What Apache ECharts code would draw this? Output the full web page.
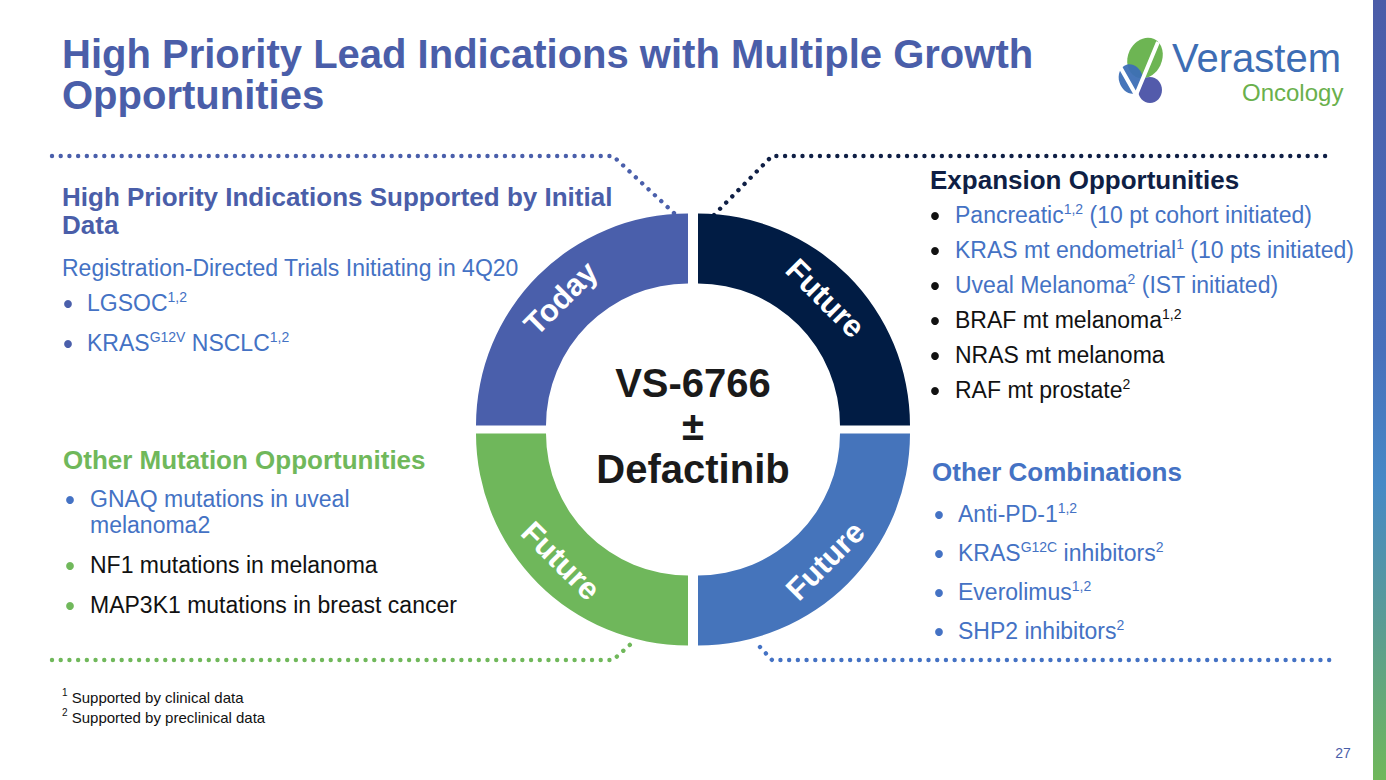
<!DOCTYPE html>
<html>
<head>
<meta charset="utf-8">
<script src="https://cdn.jsdelivr.net/npm/echarts@6/dist/echarts.min.js"></script>
<style>
html,body{margin:0;padding:0;background:#fff;}
#chart{width:1386px;height:780px;}
</style>
</head>
<body>
<div id="chart"></div>
<script>
// ---- data ----
const segmentNames = ['Today', 'Future', 'Future', 'Future'];
const segmentValues = [25, 25, 25, 25];
const centerLines = ['VS-6766', '±', 'Defactinib'];

const titleLines = ['High Priority Lead Indications with Multiple Growth', 'Opportunities'];
const todayHeading = ['High Priority Indications Supported by Initial', 'Data'];
const todaySub = 'Registration-Directed Trials Initiating in 4Q20';
const todayItems = ['{b|LGSOC}{s|1,2}', '{b|KRAS}{s|G12V}{b| NSCLC}{s|1,2}'];
const expansionHeading = 'Expansion Opportunities';
const expansionItems = [
  '{b|Pancreatic}{s|1,2}{b| (10 pt cohort initiated)}',
  '{b|KRAS mt endometrial}{s|1}{b| (10 pts initiated)}',
  '{b|Uveal Melanoma}{s|2}{b| (IST initiated)}',
  '{b|BRAF mt melanoma}{s|1,2}',
  '{b|NRAS mt melanoma}',
  '{b|RAF mt prostate}{s|2}'
];
const mutationHeading = 'Other Mutation Opportunities';
const mutationItems = [
  '{b|GNAQ mutations in uveal}\n{b|melanoma2}',
  '{b|NF1 mutations in melanoma}',
  '{b|MAP3K1 mutations in breast cancer}'
];
const comboHeading = 'Other Combinations';
const comboItems = [
  '{b|Anti-PD-1}{s|1,2}',
  '{b|KRAS}{s|G12C}{b| inhibitors}{s|2}',
  '{b|Everolimus}{s|1,2}',
  '{b|SHP2 inhibitors}{s|2}'
];
const footnotes = ['{s|1}{b| Supported by clinical data}', '{s|2}{b| Supported by preclinical data}'];
const pageNumber = '27';

// ---- styles ----
const FF = '"Liberation Sans", Arial, Helvetica, sans-serif';
const C_TITLE = '#4a5ea9';
const C_BLUE = '#4472c4';
const C_NAVY = '#0f1f45';
const C_GREEN = '#70b85b';
const C_BLACK = '#111111';
// segment colours, clockwise from 9 o'clock: Today(TL), TR, BR, BL
const segmentColors = ['#4a5fab', '#011c44', '#4574bb', '#6fb75b'];

const CX = 693, CY = 429.5, R0 = 142, R1 = 212, GX = 5, GY = 4;

const chart = echarts.init(document.getElementById('chart'), null, {renderer: 'svg'});

function txt(x, y, text, o) {
  o = o || {};
  return {
    type: 'text', x: x, y: y, silent: true,
    style: {
      text: text,
      fill: o.fill || C_BLACK,
      fontSize: o.size || 23,
      fontWeight: o.weight || 'normal',
      fontFamily: FF,
      lineHeight: o.lh,
      align: o.align || 'left', textAlign: o.align || 'left',
      verticalAlign: o.va || 'middle', textVerticalAlign: o.va || 'middle'
    }
  };
}
function rich(x, y, text, fill, size, supSize, lh) {
  size = size || 23; supSize = supSize || 14; lh = lh || 26;
  return {
    type: 'text', x: x, y: y, silent: true,
    style: {
      text: text, fill: fill, fontFamily: FF, fontSize: size,
      align: 'left', textAlign: 'left', verticalAlign: 'middle', textVerticalAlign: 'middle',
      rich: {
        b: {fill: fill, fontSize: size, fontFamily: FF, lineHeight: lh, verticalAlign: 'bottom', height: lh},
        s: {fill: fill, fontSize: supSize, fontFamily: FF, lineHeight: supSize + 2, verticalAlign: 'top'}
      }
    }
  };
}
function dot(x, y, fill, r) {
  return {type: 'circle', silent: true, shape: {cx: x, cy: y, r: r || 3.9}, style: {fill: fill}};
}
function dotted(points, color) {
  return {type: 'polyline', silent: true, shape: {points: points},
    style: {stroke: color, lineWidth: 4.4, lineDash: [0.01, 8.7], lineCap: 'round', fill: null}};
}

// ---- donut series built from data ----
const total = segmentValues.reduce((a, b) => a + b, 0);
let cum = 0;
const series = segmentValues.map((v, i) => {
  const a0 = 180 - 360 * cum / total;
  cum += v;
  const a1 = 180 - 360 * cum / total;
  const mid = (a0 + a1) / 2 * Math.PI / 180;
  const dx = Math.sign(Math.cos(mid)) * GX;
  const dy = -Math.sign(Math.sin(mid)) * GY;
  return {
    type: 'pie', silent: true, animation: false,
    center: [CX + dx, CY + dy], radius: [R0, R1],
    startAngle: a0, endAngle: a1, clockwise: true,
    avoidLabelOverlap: false,
    data: [{value: v, name: segmentNames[i]}],
    itemStyle: {color: segmentColors[i], borderWidth: 0},
    label: {show: true, position: 'inside', rotate: 'tangential', formatter: '{b}',
      color: '#ffffff', fontSize: 31, fontWeight: 'bold', fontFamily: FF},
    labelLine: {show: false},
    emphasis: {disabled: true}
  };
});

const graphic = [];
// right gradient stripe
graphic.push({type: 'rect', silent: true, shape: {x: 1373, y: 0, width: 13, height: 780},
  style: {fill: new echarts.graphic.LinearGradient(0, 0, 0, 1, [
    {offset: 0, color: '#4b5ca8'}, {offset: 0.45, color: '#4870bb'},
    {offset: 0.62, color: '#4689c6'}, {offset: 0.8, color: '#5a9c94'}, {offset: 1, color: '#70b85a'}])}});

// title
graphic.push(txt(62, 54, titleLines[0], {fill: C_TITLE, size: 40, weight: 'bold'}));
graphic.push(txt(62, 95, titleLines[1], {fill: C_TITLE, size: 40, weight: 'bold'}));

// logo
graphic.push({type: 'ellipse', silent: true, x: 1145, y: 58, rotation: -0.45, shape: {cx: 0, cy: 0, rx: 17, ry: 21}, style: {fill: '#6db553'}});
graphic.push({type: 'ellipse', silent: true, x: 1131, y: 79, rotation: 0.3, shape: {cx: 0, cy: 0, rx: 12, ry: 15}, style: {fill: '#3d6fb6', opacity: 0.95}});
graphic.push({type: 'ellipse', silent: true, x: 1150, y: 90, rotation: 0, shape: {cx: 0, cy: 0, rx: 12, ry: 13}, style: {fill: '#4a52a6', opacity: 0.95}});
graphic.push({type: 'polyline', silent: true, shape: {points: [[1119, 65], [1136, 95], [1158, 42]]}, style: {stroke: '#ffffff', lineWidth: 4, fill: null}});
graphic.push(txt(1172, 58, 'Verastem', {fill: '#3d6db4', size: 40}));
graphic.push(txt(1242, 92, 'Oncology', {fill: '#6ab04c', size: 24}));

// dotted connectors
graphic.push(dotted([[52, 156], [613, 156], [676, 215]], '#4a5fab'));
graphic.push(dotted([[714, 215], [772, 156], [1330, 156]], C_NAVY));
graphic.push(dotted([[52, 660], [613, 660], [632, 643]], C_GREEN));
graphic.push(dotted([[760, 647], [772, 660], [1330, 660]], C_BLUE));

// top-left block
graphic.push(txt(62, 197, todayHeading[0], {fill: C_TITLE, size: 26, weight: 'bold'}));
graphic.push(txt(62, 225, todayHeading[1], {fill: C_TITLE, size: 26, weight: 'bold'}));
graphic.push(txt(62, 268, todaySub, {fill: C_BLUE, size: 23}));
todayItems.forEach((s, i) => {
  const y = 303 + i * 40;
  graphic.push(dot(68, y + 1, '#4a5fab'));
  graphic.push(rich(87, y, s, C_BLUE));
});

// top-right block
graphic.push(txt(930, 180, expansionHeading, {fill: C_NAVY, size: 26, weight: 'bold'}));
expansionItems.forEach((s, i) => {
  const y = 215 + i * 35;
  graphic.push(dot(935, y + 1, C_BLACK));
  graphic.push(rich(955, y, s, i < 3 ? C_BLUE : C_BLACK));
});

// bottom-left block
graphic.push(txt(63, 460, mutationHeading, {fill: C_GREEN, size: 26, weight: 'bold'}));
const mutY = [512, 565, 605];
mutationItems.forEach((s, i) => {
  const y = mutY[i];
  const first = i === 0;
  graphic.push(dot(70, first ? 500 : y + 1, first ? C_BLUE : C_GREEN));
  graphic.push(rich(90, y, s, first ? C_BLUE : C_BLACK));
});

// bottom-right block
graphic.push(txt(932, 472, comboHeading, {fill: C_BLUE, size: 26, weight: 'bold'}));
comboItems.forEach((s, i) => {
  const y = 514 + i * 39;
  graphic.push(dot(939, y + 1, C_BLUE));
  graphic.push(rich(958, y, s, C_BLUE));
});

// center text
graphic.push({type: 'text', x: CX, y: 426, silent: true, z: 10,
  style: {text: centerLines.join('\n'), fill: '#1a1a1a', fontSize: 40, fontWeight: 'bold', fontFamily: FF,
    lineHeight: 43, align: 'center', textAlign: 'center', verticalAlign: 'middle', textVerticalAlign: 'middle'}});

// footnotes
footnotes.forEach((s, i) => {
  graphic.push({type: 'text', x: 62, y: 696 + i * 20, silent: true,
    style: {text: s, fill: C_BLACK, fontFamily: FF, fontSize: 15,
      align: 'left', textAlign: 'left', verticalAlign: 'middle', textVerticalAlign: 'middle',
      rich: {
        b: {fill: C_BLACK, fontSize: 15, fontFamily: FF, lineHeight: 18, verticalAlign: 'bottom'},
        s: {fill: C_BLACK, fontSize: 10, fontFamily: FF, lineHeight: 12, verticalAlign: 'top'}
      }}});
});

// page number
graphic.push(txt(1343, 753, pageNumber, {fill: C_TITLE, size: 14, align: 'center'}));

chart.setOption({
  animation: false,
  backgroundColor: '#ffffff',
  series: series,
  graphic: {elements: graphic}
});
</script>
</body>
</html>
